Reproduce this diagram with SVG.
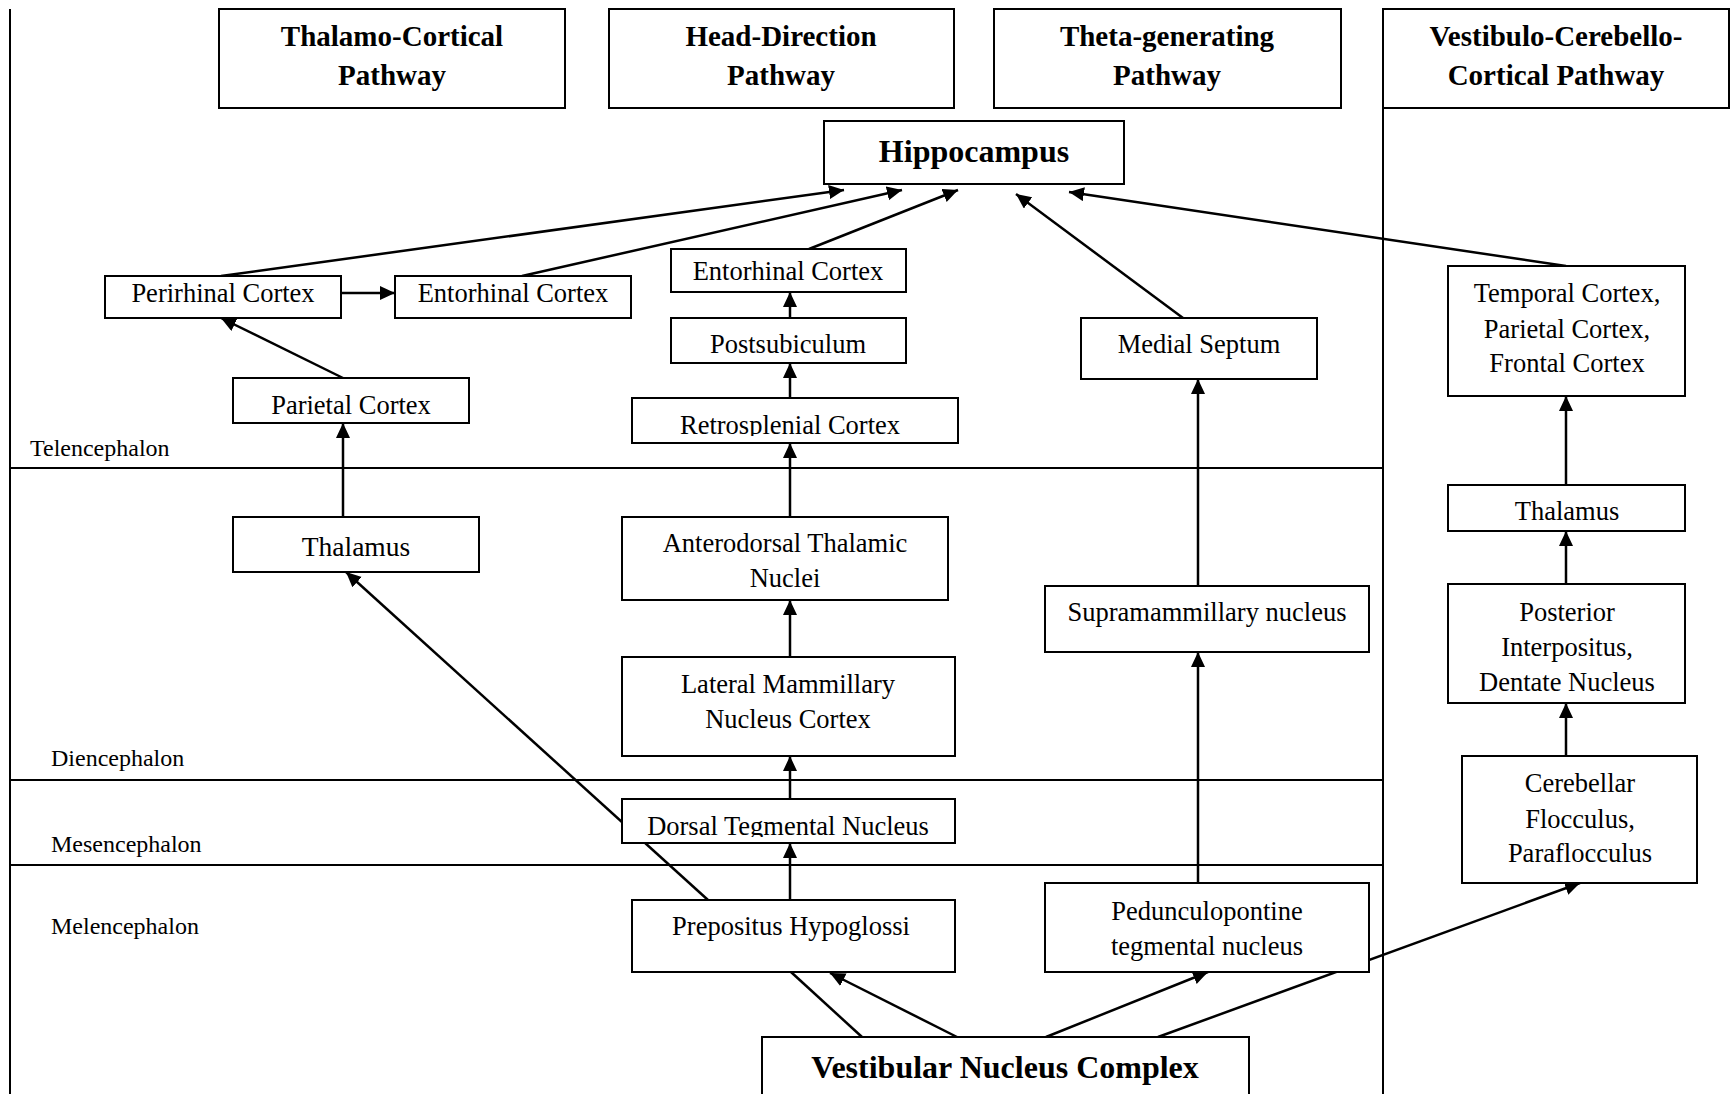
<svg xmlns="http://www.w3.org/2000/svg" width="1735" height="1094" viewBox="0 0 1735 1094">
<style>
.bg{fill:#fff}
.box{fill:#fff;stroke:#000;stroke-width:2}
.ln{stroke:#000;stroke-width:2.5;fill:none}
.div{stroke:#000;stroke-width:2;fill:none}
.arr{stroke:#000;stroke-width:2.5;fill:none;marker-end:url(#ah)}
.t{font-family:"Liberation Serif","Times New Roman",serif;font-size:26.5px;fill:#000;text-anchor:middle}
.h{font-family:"Liberation Serif","Times New Roman",serif;font-size:29px;font-weight:bold;fill:#000;text-anchor:middle}
.hb{font-family:"Liberation Serif","Times New Roman",serif;font-size:32px;font-weight:bold;fill:#000;text-anchor:middle}
.lab{font-family:"Liberation Serif","Times New Roman",serif;font-size:24px;fill:#000}
</style>
<defs>
<marker id="ah" markerUnits="userSpaceOnUse" markerWidth="16" markerHeight="16" refX="15" refY="7" orient="auto">
<path d="M0,0 L15,7 L0,14 z" fill="#000"/>
</marker>
<clipPath id="cRetro"><rect x="632" y="398" width="326" height="38"/></clipPath>
<clipPath id="cDTN"><rect x="622" y="799" width="333" height="38"/></clipPath>
</defs>
<rect class="bg" x="0" y="0" width="1735" height="1094"/>

<g id="regions">
<line class="div" x1="10" y1="9" x2="10" y2="1094"/>
<line class="div" x1="1383" y1="108" x2="1383" y2="1094"/>
<line class="div" x1="10" y1="468" x2="1383" y2="468"/>
<line class="div" x1="10" y1="780" x2="1383" y2="780"/>
<line class="div" x1="10" y1="865" x2="1383" y2="865"/>
<text class="lab" x="30" y="456">Telencephalon</text>
<text class="lab" x="51" y="766">Diencephalon</text>
<text class="lab" x="51" y="852">Mesencephalon</text>
<text class="lab" x="51" y="934">Melencephalon</text>
</g>

<g id="connectors">
<line class="arr" x1="221" y1="276" x2="844" y2="190"/>
<line class="arr" x1="522" y1="276" x2="902" y2="190"/>
<line class="arr" x1="809" y1="249" x2="958" y2="190"/>
<line class="arr" x1="1183" y1="318" x2="1016" y2="194"/>
<line class="arr" x1="1566" y1="266" x2="1069" y2="192"/>
<line class="arr" x1="341" y1="293" x2="395" y2="293"/>
<line class="arr" x1="343" y1="378" x2="221" y2="318"/>
<line class="arr" x1="343" y1="517" x2="343" y2="423"/>
<line class="arr" x1="708" y1="900" x2="346" y2="572"/>
<line class="arr" x1="790" y1="517" x2="790" y2="443"/>
<line class="arr" x1="790" y1="398" x2="790" y2="363"/>
<line class="arr" x1="790" y1="318" x2="790" y2="292"/>
<line class="arr" x1="790" y1="657" x2="790" y2="600"/>
<line class="arr" x1="790" y1="799" x2="790" y2="756"/>
<line class="arr" x1="790" y1="900" x2="790" y2="843"/>
<line class="ln" x1="862" y1="1037" x2="791" y2="972"/>
<line class="arr" x1="957" y1="1037" x2="830" y2="973"/>
<line class="arr" x1="1046" y1="1037" x2="1208" y2="972"/>
<line class="arr" x1="1158" y1="1037" x2="1580" y2="883"/>
<line class="arr" x1="1198" y1="883" x2="1198" y2="652"/>
<line class="arr" x1="1198" y1="586" x2="1198" y2="379"/>
<line class="arr" x1="1566" y1="485" x2="1566" y2="396"/>
<line class="arr" x1="1566" y1="584" x2="1566" y2="531"/>
<line class="arr" x1="1566" y1="756" x2="1566" y2="703"/>
</g>

<g id="hdr-thalamo"><rect class="box" x="219" y="9" width="346" height="99"/><text class="h" x="392" y="46">Thalamo-Cortical</text><text class="h" x="392" y="85">Pathway</text></g>
<g id="hdr-headdir"><rect class="box" x="609" y="9" width="345" height="99"/><text class="h" x="781" y="46">Head-Direction</text><text class="h" x="781" y="85">Pathway</text></g>
<g id="hdr-theta"><rect class="box" x="994" y="9" width="347" height="99"/><text class="h" x="1167" y="46">Theta-generating</text><text class="h" x="1167" y="85">Pathway</text></g>
<g id="hdr-vestibulo"><rect class="box" x="1383" y="9" width="346" height="99"/><text class="h" x="1556" y="46">Vestibulo-Cerebello-</text><text class="h" x="1556" y="85">Cortical Pathway</text></g>

<g id="hippocampus"><rect class="box" x="824" y="121" width="300" height="63"/><text class="hb" x="974" y="162">Hippocampus</text></g>
<g id="perirhinal"><rect class="box" x="105" y="276" width="236" height="42"/><text class="t" x="223" y="302">Perirhinal Cortex</text></g>
<g id="entorhinal-tc"><rect class="box" x="395" y="276" width="236" height="42"/><text class="t" x="513" y="302">Entorhinal Cortex</text></g>
<g id="entorhinal-hd"><rect class="box" x="671" y="249" width="235" height="43"/><text class="t" x="788" y="280">Entorhinal Cortex</text></g>
<g id="postsubiculum"><rect class="box" x="671" y="318" width="235" height="45"/><text class="t" x="788" y="353">Postsubiculum</text></g>
<g id="retrosplenial"><rect class="box" x="632" y="398" width="326" height="45"/><text class="t" x="790" y="434" clip-path="url(#cRetro)">Retrosplenial Cortex</text></g>
<g id="parietal"><rect class="box" x="233" y="378" width="236" height="45"/><text class="t" x="351" y="414">Parietal Cortex</text></g>
<g id="medial-septum"><rect class="box" x="1081" y="318" width="236" height="61"/><text class="t" x="1199" y="353">Medial Septum</text></g>
<g id="temporal"><rect class="box" x="1448" y="266" width="237" height="130"/><text class="t" x="1567" y="302">Temporal Cortex,</text><text class="t" x="1567" y="338">Parietal Cortex,</text><text class="t" x="1567" y="372">Frontal Cortex</text></g>
<g id="thalamus-tc"><rect class="box" x="233" y="517" width="246" height="55"/><text class="t" x="356" y="556" style="font-size:27.5px">Thalamus</text></g>
<g id="anterodorsal"><rect class="box" x="622" y="517" width="326" height="83"/><text class="t" x="785" y="552">Anterodorsal Thalamic</text><text class="t" x="785" y="587">Nuclei</text></g>
<g id="lateral-mammillary"><rect class="box" x="622" y="657" width="333" height="99"/><text class="t" x="788" y="693">Lateral Mammillary</text><text class="t" x="788" y="728">Nucleus Cortex</text></g>
<g id="dorsal-tegmental"><rect class="box" x="622" y="799" width="333" height="44"/><text class="t" x="788" y="835" clip-path="url(#cDTN)">Dorsal Tegmental Nucleus</text></g>
<g id="prepositus"><rect class="box" x="632" y="900" width="323" height="72"/><text class="t" x="791" y="935">Prepositus Hypoglossi</text></g>
<g id="supramammillary"><rect class="box" x="1045" y="586" width="324" height="66"/><text class="t" x="1207" y="621">Supramammillary nucleus</text></g>
<g id="pedunculopontine"><rect class="box" x="1045" y="883" width="324" height="89"/><text class="t" x="1207" y="920">Pedunculopontine</text><text class="t" x="1207" y="955">tegmental nucleus</text></g>
<g id="thalamus-vc"><rect class="box" x="1448" y="485" width="237" height="46"/><text class="t" x="1567" y="520">Thalamus</text></g>
<g id="posterior"><rect class="box" x="1448" y="584" width="237" height="119"/><text class="t" x="1567" y="621">Posterior</text><text class="t" x="1567" y="656">Interpositus,</text><text class="t" x="1567" y="691">Dentate Nucleus</text></g>
<g id="cerebellar"><rect class="box" x="1462" y="756" width="235" height="127"/><text class="t" x="1580" y="792">Cerebellar</text><text class="t" x="1580" y="828">Flocculus,</text><text class="t" x="1580" y="862">Paraflocculus</text></g>
<g id="vestibular"><rect class="box" x="762" y="1037" width="487" height="70"/><text class="hb" x="1005" y="1078">Vestibular Nucleus Complex</text></g>
</svg>
